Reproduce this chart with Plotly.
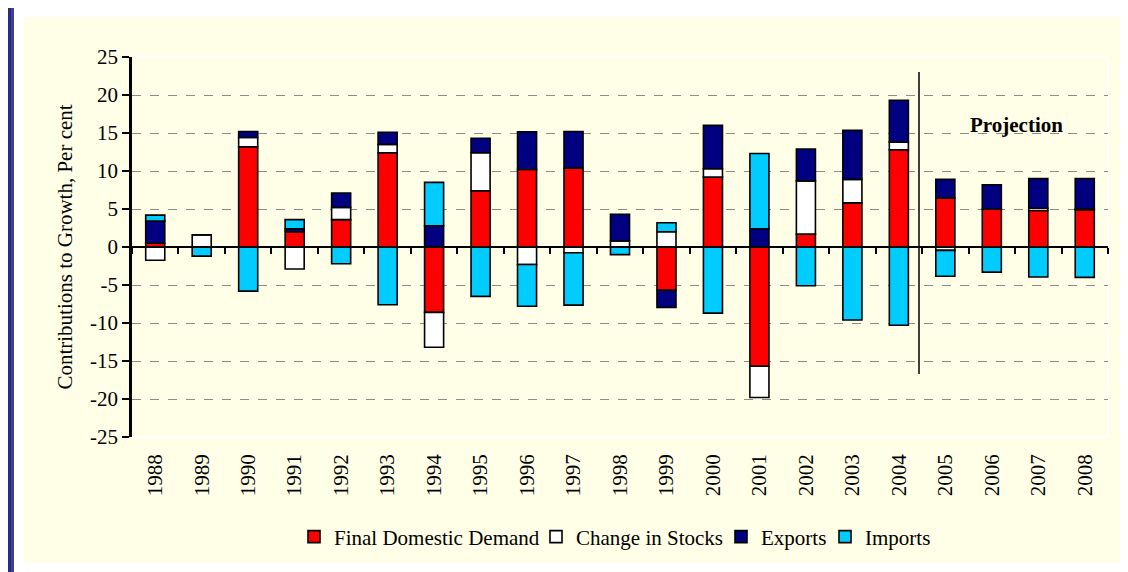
import plotly.graph_objects as go

years = [str(y) for y in range(1988, 2009)]
final_domestic_demand = [0.5, 0.0, 13.2, 2.0, 3.6, 12.4, -8.6, 7.4, 10.2, 10.4, 0.0,
                         -5.7, 9.2, -15.7, 1.7, 5.8, 12.8, 6.45, 5.0, 4.8, 4.9]
change_in_stocks = [-1.75, 1.6, 1.2, -2.9, 1.6, 1.1, -4.6, 5.0, -2.3, -0.75, 0.8,
                    2.0, 1.1, -4.1, 7.0, 3.1, 1.0, -0.45, 0.0, 0.3, 0.1]
exports = [2.9, 0.0, 0.8, 0.4, 1.9, 1.6, 2.8, 1.9, 4.95, 4.8, 3.5,
           -2.24, 5.7, 2.4, 4.2, 6.45, 5.5, 2.45, 3.2, 3.9, 4.0]
imports = [0.8, -1.2, -5.8, 1.2, -2.2, -7.6, 5.7, -6.5, -5.5, -6.9, -1.0,
           1.2, -8.7, 9.9, -5.1, -9.6, -10.3, -3.4, -3.3, -3.95, -4.0]
y_tick_values = [-25, -20, -15, -10, -5, 0, 5, 10, 15, 20, 25]
y_tick_labels = ["-25", "-20", "-15", "-10", "-5", "0", "5", "10", "15", "20", "25"]

series = [
    ("Final Domestic Demand", final_domestic_demand, "#FF0000"),
    ("Change in Stocks", change_in_stocks, "#FFFFFF"),
    ("Exports", exports, "#000080"),
    ("Imports", imports, "#00CCFF"),
]

FONT = "Liberation Serif"
IVORY = "#FFFFE7"

# page body has an 8px margin: lay the figure out in page coordinates minus 8
OFF = 8
W, H = 1128 - OFF, 572 - OFF
ml, mr, mt, mb = 132 - OFF, 20, 57 - OFF, 135
pw, ph = W - ml - mr, H - mt - mb

def px(x):
    return (x - OFF - ml) / pw

def py(y):
    return (H - mb - (y - OFF)) / ph

# legend text starting points (page coords)
legend_text_x = [336, 578, 763, 867]
legend_names = ["legend", "legend2", "legend3", "legend4"]

fig = go.Figure()
for (name, vals, col), lg in zip(series, legend_names):
    fig.add_trace(go.Bar(
        x=years, y=vals, name=name, legend=lg,
        marker=dict(color=col, line=dict(color="black", width=1.6)),
        hoverinfo="x+y+name",
    ))

# invisible trace carrying the zero-line axis with boundary ticks
fig.add_trace(go.Scatter(
    x=years, y=[0] * len(years), xaxis="x2", mode="markers",
    marker=dict(opacity=0), showlegend=False, hoverinfo="skip",
))

shapes = [
    dict(type="rect", xref="paper", yref="paper", x0=px(24), x1=px(1126),
         y0=py(563), y1=py(17), fillcolor=IVORY, line=dict(width=0), layer="below"),
    dict(type="rect", xref="paper", yref="paper", x0=px(4), x1=px(11),
         y0=py(580), y1=py(6), fillcolor="#2B2B78", line=dict(width=0), layer="below"),
    dict(type="rect", xref="paper", yref="paper", x0=px(11), x1=px(14),
         y0=py(580), y1=py(6), fillcolor="#3F40A0", line=dict(width=0), layer="below"),
    dict(type="line", xref="paper", yref="paper", x0=0.002, x1=1, y0=1, y1=1,
         line=dict(color="white", width=2), layer="above"),
    dict(type="line", xref="paper", yref="paper", x0=0.002, x1=1, y0=0, y1=0,
         line=dict(color="white", width=2), layer="above"),
    dict(type="line", xref="paper", yref="paper", x0=1, x1=1, y0=0, y1=1,
         line=dict(color="white", width=2), layer="below"),
    dict(type="line", xref="paper", yref="paper", x0=px(919), x1=px(919),
         y0=py(374), y1=py(72), line=dict(color="black", width=1.5)),
]

legend_common = dict(orientation="h", xanchor="left", yanchor="middle", y=py(537),
                     font=dict(family=FONT, size=21, color="black"),
                     bgcolor="rgba(0,0,0,0)", itemwidth=30, borderwidth=0)
legend_layout = {}
for lg, tx in zip(legend_names, legend_text_x):
    legend_layout[lg] = dict(legend_common, x=px(tx - 42))

fig.update_layout(
    width=W, height=H,
    margin=dict(l=ml, r=mr, t=mt, b=mb, pad=0),
    paper_bgcolor="white",
    plot_bgcolor=IVORY,
    barmode="relative",
    bargap=0.59,
    font=dict(family=FONT, size=21, color="black"),
    showlegend=True,
    xaxis=dict(type="category", range=[-0.5, 20.5], showline=False, ticks="",
               tickangle=-90, tickfont=dict(family=FONT, size=21), showgrid=False,
               ticklabelstandoff=12, fixedrange=True),
    xaxis2=dict(type="category", overlaying="x", anchor="free", position=0.5,
                range=[-0.5, 20.5], showline=True, linecolor="black", linewidth=2,
                ticks="outside", tickson="boundaries", ticklen=6, tickwidth=2,
                tickcolor="black", showticklabels=False, showgrid=False),
    yaxis=dict(range=[-25, 25], tickmode="array", tickvals=y_tick_values,
               ticktext=y_tick_labels, showline=True, linecolor="black",
               linewidth=2.5, ticks="outside", ticklen=7, tickwidth=2, tickcolor="black",
               tickfont=dict(family=FONT, size=21), showgrid=True, gridcolor="#8C8C8C",
               griddash="dash", gridwidth=1, zeroline=False,
               title=dict(text="Contributions to Growth, Per cent",
                          font=dict(family=FONT, size=21), standoff=12)),
    shapes=shapes,
    annotations=[dict(text="<b>Projection</b>", xref="paper", yref="y", x=px(1016), y=16,
                      xanchor="center", yanchor="middle", showarrow=False,
                      font=dict(family=FONT, size=21, color="black"))],
    **legend_layout,
)

fig.write_html("out.html")
